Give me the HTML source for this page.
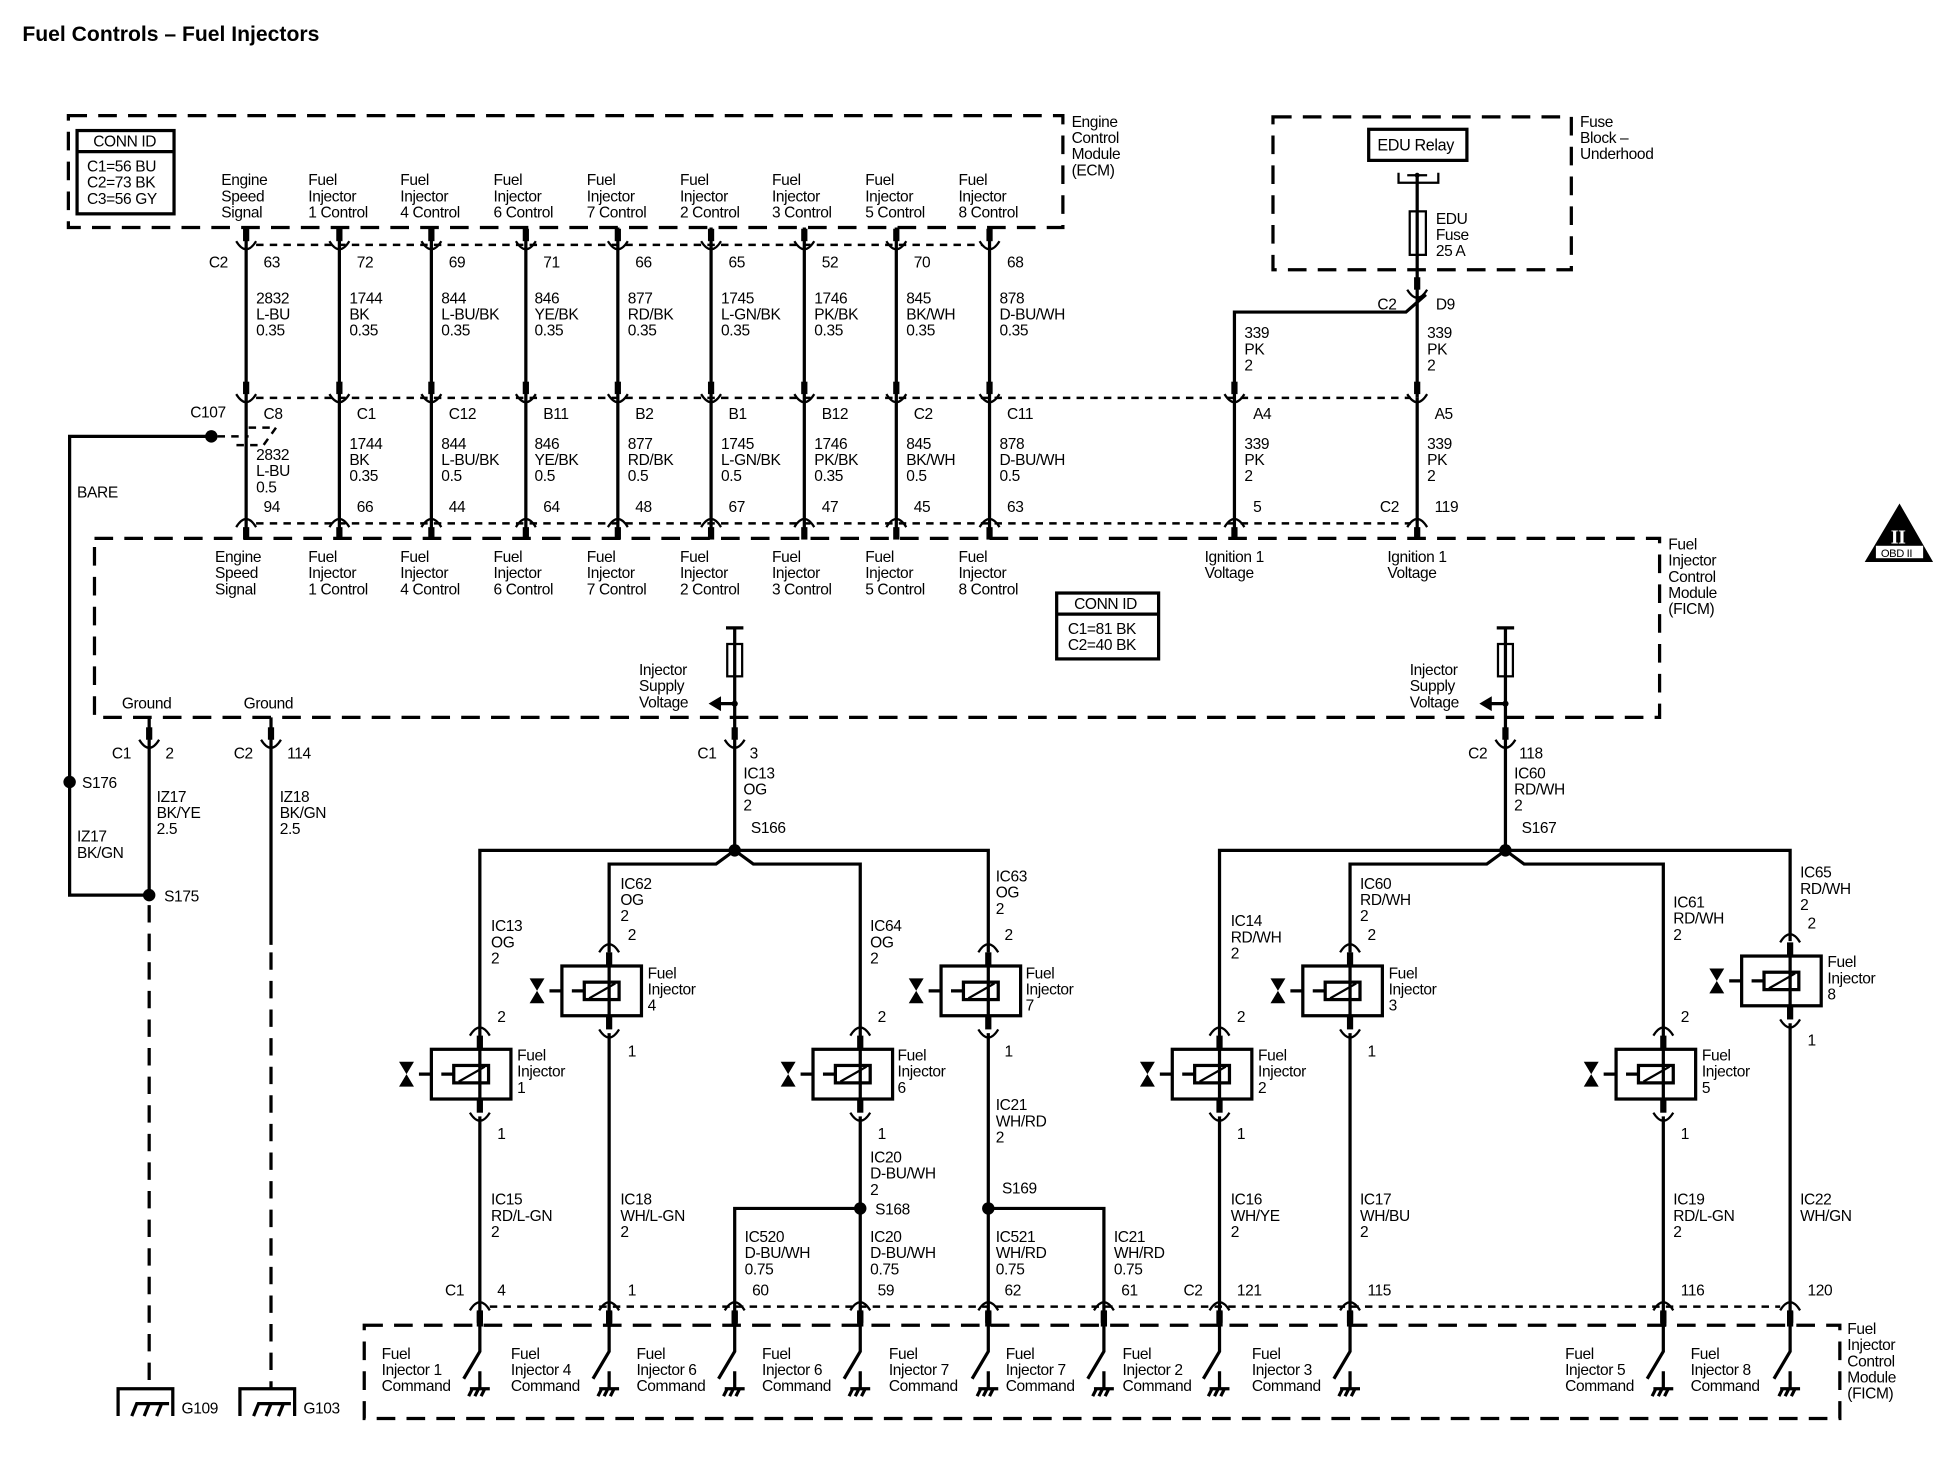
<!DOCTYPE html>
<html><head><meta charset="utf-8"><style>
html,body{margin:0;padding:0;background:#fff}
svg{display:block}
text{font-family:"Liberation Sans",sans-serif;font-size:12.5px;fill:#000;letter-spacing:-0.3px}
.w{stroke:#000;stroke-width:2.6;fill:none}
.t{stroke:#000;stroke-width:1.8;fill:none}
.dc{stroke:#000;stroke-width:2;fill:none;stroke-dasharray:6,5}
.db{stroke:#000;stroke-width:2.6;fill:none;stroke-dasharray:15,9}
</style></head><body>
<svg width="1948" height="1472" viewBox="0 0 1567 1184" preserveAspectRatio="none" xmlns="http://www.w3.org/2000/svg">
<defs>
<g id="f"><rect x="-2.5" y="-13" width="5" height="10"/><path d="M-8,-3 Q0,10 8,-3" class="t"/></g>
<g id="d"><rect x="-2.5" y="3" width="5" height="10"/><path d="M-8,3 Q0,-10 8,3" class="t"/></g>
<g id="inj"><rect x="-32" y="0" width="64" height="40" class="w"/><rect x="-14" y="13" width="28" height="14" class="w"/><path d="M-10,26 L11,14" class="t"/><path d="M-32,20 h-10 M-14,20 h-10" class="w"/><path d="M-58,10 h12 l-12,20 h12 z" fill="#000"/></g>
<g id="sw"><rect x="-2.5" y="4" width="5" height="12"/><path d="M0,16 V36 L-13,58" class="w"/><path d="M0,52 V66 M-8,66 H8 M-6,66 l-3,6 M-1,66 l-3,6 M4,66 l-3,6" class="w"/></g>
<g id="gnd"><path d="M-25,22 V0 H19 V22" class="w"/><path d="M-14,22 l4,-10 H16 M-4,22 l4,-10 M6,22 l4,-10" class="w"/></g>
</defs>

<text x="18" y="33" style="font-size:17px;font-weight:bold;letter-spacing:0">Fuel Controls – Fuel Injectors</text>

<!-- ECM -->
<path d="M55,93 H855 V183 H55 Z" class="db"/>
<text x="862" y="102">Engine</text><text x="862" y="115">Control</text><text x="862" y="128">Module</text><text x="862" y="141">(ECM)</text>
<rect x="62" y="105" width="78" height="67" class="w"/><path d="M62,122 H140" class="w"/>
<text x="75" y="118">CONN ID</text><text x="70" y="138">C1=56 BU</text><text x="70" y="151">C2=73 BK</text><text x="70" y="164">C3=56 GY</text>

<g>
<text x="178" y="149">Engine</text><text x="178" y="162">Speed</text><text x="178" y="175">Signal</text>
<text x="248" y="149">Fuel</text><text x="248" y="162">Injector</text><text x="248" y="175">1 Control</text>
<text x="322" y="149">Fuel</text><text x="322" y="162">Injector</text><text x="322" y="175">4 Control</text>
<text x="397" y="149">Fuel</text><text x="397" y="162">Injector</text><text x="397" y="175">6 Control</text>
<text x="472" y="149">Fuel</text><text x="472" y="162">Injector</text><text x="472" y="175">7 Control</text>
<text x="547" y="149">Fuel</text><text x="547" y="162">Injector</text><text x="547" y="175">2 Control</text>
<text x="621" y="149">Fuel</text><text x="621" y="162">Injector</text><text x="621" y="175">3 Control</text>
<text x="696" y="149">Fuel</text><text x="696" y="162">Injector</text><text x="696" y="175">5 Control</text>
<text x="771" y="149">Fuel</text><text x="771" y="162">Injector</text><text x="771" y="175">8 Control</text>
</g>

<path d="M206,197 H790" class="dc"/>
<path d="M206,320 H1135" class="dc"/>
<path d="M206,421 H1135" class="dc"/>

<path d="M198,183 V433 M273,183 V433 M347,183 V433 M423,183 V433 M497,183 V433 M572,183 V433 M647,183 V433 M721,183 V433 M796,183 V433" class="w"/>
<g>
<use href="#f" x="198" y="197"/><use href="#f" x="273" y="197"/><use href="#f" x="347" y="197"/><use href="#f" x="423" y="197"/><use href="#f" x="497" y="197"/><use href="#f" x="572" y="197"/><use href="#f" x="647" y="197"/><use href="#f" x="721" y="197"/><use href="#f" x="796" y="197"/>
<use href="#f" x="198" y="320"/><use href="#f" x="273" y="320"/><use href="#f" x="347" y="320"/><use href="#f" x="423" y="320"/><use href="#f" x="497" y="320"/><use href="#f" x="572" y="320"/><use href="#f" x="647" y="320"/><use href="#f" x="721" y="320"/><use href="#f" x="796" y="320"/><use href="#f" x="993" y="320"/><use href="#f" x="1140" y="320"/>
<use href="#d" x="198" y="421"/><use href="#d" x="273" y="421"/><use href="#d" x="347" y="421"/><use href="#d" x="423" y="421"/><use href="#d" x="497" y="421"/><use href="#d" x="572" y="421"/><use href="#d" x="647" y="421"/><use href="#d" x="721" y="421"/><use href="#d" x="796" y="421"/><use href="#d" x="993" y="421"/><use href="#d" x="1140" y="421"/>
</g>
<text x="168" y="215">C2</text>
<text x="212" y="215">63</text><text x="287" y="215">72</text><text x="361" y="215">69</text><text x="437" y="215">71</text><text x="511" y="215">66</text><text x="586" y="215">65</text><text x="661" y="215">52</text><text x="735" y="215">70</text><text x="810" y="215">68</text>
<g>
<text x="206" y="244">2832</text><text x="206" y="257">L-BU</text><text x="206" y="270">0.35</text>
<text x="281" y="244">1744</text><text x="281" y="257">BK</text><text x="281" y="270">0.35</text>
<text x="355" y="244">844</text><text x="355" y="257">L-BU/BK</text><text x="355" y="270">0.35</text>
<text x="430" y="244">846</text><text x="430" y="257">YE/BK</text><text x="430" y="270">0.35</text>
<text x="505" y="244">877</text><text x="505" y="257">RD/BK</text><text x="505" y="270">0.35</text>
<text x="580" y="244">1745</text><text x="580" y="257">L-GN/BK</text><text x="580" y="270">0.35</text>
<text x="655" y="244">1746</text><text x="655" y="257">PK/BK</text><text x="655" y="270">0.35</text>
<text x="729" y="244">845</text><text x="729" y="257">BK/WH</text><text x="729" y="270">0.35</text>
<text x="804" y="244">878</text><text x="804" y="257">D-BU/WH</text><text x="804" y="270">0.35</text>
</g>
<text x="153" y="336">C107</text>
<text x="212" y="337">C8</text><text x="287" y="337">C1</text><text x="361" y="337">C12</text><text x="437" y="337">B11</text><text x="511" y="337">B2</text><text x="586" y="337">B1</text><text x="661" y="337">B12</text><text x="735" y="337">C2</text><text x="810" y="337">C11</text>
<text x="1008" y="337">A4</text><text x="1154" y="337">A5</text>
<g>
<text x="206" y="370">2832</text><text x="206" y="383">L-BU</text><text x="206" y="396">0.5</text>
<text x="281" y="361">1744</text><text x="281" y="374">BK</text><text x="281" y="387">0.35</text>
<text x="355" y="361">844</text><text x="355" y="374">L-BU/BK</text><text x="355" y="387">0.5</text>
<text x="430" y="361">846</text><text x="430" y="374">YE/BK</text><text x="430" y="387">0.5</text>
<text x="505" y="361">877</text><text x="505" y="374">RD/BK</text><text x="505" y="387">0.5</text>
<text x="580" y="361">1745</text><text x="580" y="374">L-GN/BK</text><text x="580" y="387">0.5</text>
<text x="655" y="361">1746</text><text x="655" y="374">PK/BK</text><text x="655" y="387">0.35</text>
<text x="729" y="361">845</text><text x="729" y="374">BK/WH</text><text x="729" y="387">0.5</text>
<text x="804" y="361">878</text><text x="804" y="374">D-BU/WH</text><text x="804" y="387">0.5</text>
<text x="1001" y="361">339</text><text x="1001" y="374">PK</text><text x="1001" y="387">2</text>
<text x="1148" y="361">339</text><text x="1148" y="374">PK</text><text x="1148" y="387">2</text>
</g>
<text x="212" y="412">94</text><text x="287" y="412">66</text><text x="361" y="412">44</text><text x="437" y="412">64</text><text x="511" y="412">48</text><text x="586" y="412">67</text><text x="661" y="412">47</text><text x="735" y="412">45</text><text x="810" y="412">63</text>
<text x="1008" y="412">5</text><text x="1110" y="412">C2</text><text x="1154" y="412">119</text>

<circle cx="170" cy="351" r="5" fill="#000"/>
<path d="M175,351 H200 M200,344 l22,0 l-10,14 l-26,0" class="dc"/>
<path d="M170,351 H56 V720 H120" class="w"/>
<circle cx="56" cy="629" r="5" fill="#000"/>
<text x="62" y="400">BARE</text>
<text x="66" y="634">S176</text>
<text x="62" y="677">IZ17</text><text x="62" y="690">BK/GN</text>

<path d="M1024,94 H1264 V217 H1024 Z" class="db"/>
<text x="1271" y="102">Fuse</text><text x="1271" y="115">Block –</text><text x="1271" y="128">Underhood</text>
<rect x="1101" y="104" width="79" height="25" class="w"/>
<text x="1108" y="121" style="font-size:13px">EDU Relay</text>
<path d="M1125,139 V147 H1157 V139 M1132,141 H1148" class="t"/>
<circle cx="1140" cy="141" r="2" fill="#000"/>
<rect x="1134" y="170" width="13" height="35" class="t"/>
<path d="M1140,141 V320" class="w"/>
<text x="1155" y="180">EDU</text><text x="1155" y="193">Fuse</text><text x="1155" y="206">25 A</text>
<use href="#f" x="1140" y="236"/>
<path d="M1147,237 L1131,251 H993 V433" class="w"/>
<path d="M1140,320 V433" class="w"/>
<text x="1108" y="249">C2</text><text x="1155" y="249">D9</text>
<text x="1001" y="272">339</text><text x="1001" y="285">PK</text><text x="1001" y="298">2</text>
<text x="1148" y="272">339</text><text x="1148" y="285">PK</text><text x="1148" y="298">2</text>

<path d="M1528,405 L1555,452 H1500 Z" fill="#000"/>
<text x="1521" y="437" style="fill:#fff;font-family:'Liberation Serif',serif;font-size:16px;font-weight:bold">II</text>
<rect x="1509" y="439" width="38" height="10" fill="#fff"/>
<text x="1513" y="448" style="font-size:9px">OBD II</text>

<path d="M76,433 H1335 V577 H76 Z" class="db"/>
<text x="1342" y="442">Fuel</text><text x="1342" y="455">Injector</text><text x="1342" y="468">Control</text><text x="1342" y="481">Module</text><text x="1342" y="494">(FICM)</text>
<g>
<text x="173" y="452">Engine</text><text x="173" y="465">Speed</text><text x="173" y="478">Signal</text>
<text x="248" y="452">Fuel</text><text x="248" y="465">Injector</text><text x="248" y="478">1 Control</text>
<text x="322" y="452">Fuel</text><text x="322" y="465">Injector</text><text x="322" y="478">4 Control</text>
<text x="397" y="452">Fuel</text><text x="397" y="465">Injector</text><text x="397" y="478">6 Control</text>
<text x="472" y="452">Fuel</text><text x="472" y="465">Injector</text><text x="472" y="478">7 Control</text>
<text x="547" y="452">Fuel</text><text x="547" y="465">Injector</text><text x="547" y="478">2 Control</text>
<text x="621" y="452">Fuel</text><text x="621" y="465">Injector</text><text x="621" y="478">3 Control</text>
<text x="696" y="452">Fuel</text><text x="696" y="465">Injector</text><text x="696" y="478">5 Control</text>
<text x="771" y="452">Fuel</text><text x="771" y="465">Injector</text><text x="771" y="478">8 Control</text>
<text x="969" y="452">Ignition 1</text><text x="969" y="465">Voltage</text>
<text x="1116" y="452">Ignition 1</text><text x="1116" y="465">Voltage</text>
</g>
<rect x="850" y="477" width="82" height="53" class="w"/><path d="M850,494 H932" class="w"/>
<text x="864" y="490">CONN ID</text><text x="859" y="510">C1=81 BK</text><text x="859" y="523">C2=40 BK</text>

<path d="M584,505 H598 M591,505 V598 M1204,505 H1218 M1211,505 V598" class="w"/>
<rect x="585" y="518" width="12" height="26" fill="#fff" class="t"/>
<rect x="1205" y="518" width="12" height="26" fill="#fff" class="t"/>
<path d="M591,566 H578 M1211,566 H1198" class="w"/>
<path d="M570,566 l10,-6 v12 z M1190,566 l10,-6 v12 z" fill="#000"/>
<circle cx="591" cy="566" r="2.5" fill="#000"/><circle cx="1211" cy="566" r="2.5" fill="#000"/>
<text x="514" y="543">Injector</text><text x="514" y="556">Supply</text><text x="514" y="569">Voltage</text>
<text x="1134" y="543">Injector</text><text x="1134" y="556">Supply</text><text x="1134" y="569">Voltage</text>
<use href="#f" x="591" y="598"/><use href="#f" x="1211" y="598"/>
<text x="561" y="610">C1</text><text x="603" y="610">3</text>
<text x="1181" y="610">C2</text><text x="1222" y="610">118</text>
<text x="598" y="626">IC13</text><text x="598" y="639">OG</text><text x="598" y="652">2</text>
<text x="604" y="670">S166</text>
<text x="1218" y="626">IC60</text><text x="1218" y="639">RD/WH</text><text x="1218" y="652">2</text>
<text x="1224" y="670">S167</text>

<text x="98" y="570">Ground</text><text x="196" y="570">Ground</text>
<use href="#f" x="120" y="598"/><use href="#f" x="218" y="598"/>
<text x="90" y="610">C1</text><text x="133" y="610">2</text><text x="188" y="610">C2</text><text x="231" y="610">114</text>
<path d="M120,577 V720 M218,577 V760" class="w"/>
<path d="M120,728 V1118 M218,766 V1118" class="w" style="stroke-dasharray:14,9"/>
<circle cx="120" cy="720" r="5" fill="#000"/>
<text x="132" y="725">S175</text>
<text x="126" y="645">IZ17</text><text x="126" y="658">BK/YE</text><text x="126" y="671">2.5</text>
<text x="225" y="645">IZ18</text><text x="225" y="658">BK/GN</text><text x="225" y="671">2.5</text>
<use href="#gnd" x="120" y="1117"/><use href="#gnd" x="218" y="1117"/>
<text x="146" y="1137">G109</text><text x="244" y="1137">G103</text>

<path d="M591,598 V684 M386,840 V684 H795 V766 M591,684 L576,695 H490 V766 M591,684 L606,695 H692 V840" class="w"/>
<circle cx="591" cy="684" r="5" fill="#000"/>
<path d="M1211,598 V684 M981,840 V684 H1440 V757 M1211,684 L1196,695 H1086 V766 M1211,684 L1226,695 H1338 V840" class="w"/>
<circle cx="1211" cy="684" r="5" fill="#000"/>

<use href="#inj" x="379" y="844"/>
<use href="#inj" x="484" y="777"/>
<use href="#inj" x="686" y="844"/>
<use href="#inj" x="789" y="777"/>
<use href="#inj" x="975" y="844"/>
<use href="#inj" x="1080" y="777"/>
<use href="#inj" x="1332" y="844"/>
<use href="#inj" x="1433" y="769"/>
<g>
<use href="#d" x="386" y="830"/><use href="#f" x="386" y="898"/>
<use href="#d" x="490" y="763"/><use href="#f" x="490" y="831"/>
<use href="#d" x="692" y="830"/><use href="#f" x="692" y="898"/>
<use href="#d" x="795" y="763"/><use href="#f" x="795" y="831"/>
<use href="#d" x="981" y="830"/><use href="#f" x="981" y="898"/>
<use href="#d" x="1086" y="763"/><use href="#f" x="1086" y="831"/>
<use href="#d" x="1338" y="830"/><use href="#f" x="1338" y="898"/>
<use href="#d" x="1440" y="755"/><use href="#f" x="1440" y="823"/>
</g>
<path d="M386,840 V888 M490,773 V821 M692,840 V888 M795,773 V821 M981,840 V888 M1086,773 V821 M1338,840 V888 M1440,765 V813" class="w"/>
<path d="M386,898 V1062 M490,831 V1062 M692,898 V1062 M795,831 V1062 M981,898 V1062 M1086,831 V1062 M1338,898 V1062 M1440,823 V1062" class="w"/>
<path d="M591,1062 V972 H692 M795,972 H888 V1062" class="w"/>
<circle cx="692" cy="972" r="5" fill="#000"/><circle cx="795" cy="972" r="5" fill="#000"/>
<text x="704" y="977">S168</text><text x="806" y="960">S169</text>

<g>
<text x="416" y="853">Fuel</text><text x="416" y="866">Injector</text><text x="416" y="879">1</text>
<text x="521" y="787">Fuel</text><text x="521" y="800">Injector</text><text x="521" y="813">4</text>
<text x="722" y="853">Fuel</text><text x="722" y="866">Injector</text><text x="722" y="879">6</text>
<text x="825" y="787">Fuel</text><text x="825" y="800">Injector</text><text x="825" y="813">7</text>
<text x="1012" y="853">Fuel</text><text x="1012" y="866">Injector</text><text x="1012" y="879">2</text>
<text x="1117" y="787">Fuel</text><text x="1117" y="800">Injector</text><text x="1117" y="813">3</text>
<text x="1369" y="853">Fuel</text><text x="1369" y="866">Injector</text><text x="1369" y="879">5</text>
<text x="1470" y="778">Fuel</text><text x="1470" y="791">Injector</text><text x="1470" y="804">8</text>
</g>
<g>
<text x="400" y="822">2</text><text x="400" y="916">1</text>
<text x="505" y="756">2</text><text x="505" y="850">1</text>
<text x="706" y="822">2</text><text x="706" y="916">1</text>
<text x="808" y="756">2</text><text x="808" y="850">1</text>
<text x="995" y="822">2</text><text x="995" y="916">1</text>
<text x="1100" y="756">2</text><text x="1100" y="850">1</text>
<text x="1352" y="822">2</text><text x="1352" y="916">1</text>
<text x="1454" y="747">2</text><text x="1454" y="841">1</text>
</g>
<g>
<text x="395" y="749">IC13</text><text x="395" y="762">OG</text><text x="395" y="775">2</text>
<text x="499" y="715">IC62</text><text x="499" y="728">OG</text><text x="499" y="741">2</text>
<text x="700" y="749">IC64</text><text x="700" y="762">OG</text><text x="700" y="775">2</text>
<text x="801" y="709">IC63</text><text x="801" y="722">OG</text><text x="801" y="735">2</text>
<text x="990" y="745">IC14</text><text x="990" y="758">RD/WH</text><text x="990" y="771">2</text>
<text x="1094" y="715">IC60</text><text x="1094" y="728">RD/WH</text><text x="1094" y="741">2</text>
<text x="1346" y="730">IC61</text><text x="1346" y="743">RD/WH</text><text x="1346" y="756">2</text>
<text x="1448" y="706">IC65</text><text x="1448" y="719">RD/WH</text><text x="1448" y="732">2</text>
</g>
<g>
<text x="395" y="969">IC15</text><text x="395" y="982">RD/L-GN</text><text x="395" y="995">2</text>
<text x="499" y="969">IC18</text><text x="499" y="982">WH/L-GN</text><text x="499" y="995">2</text>
<text x="700" y="935">IC20</text><text x="700" y="948">D-BU/WH</text><text x="700" y="961">2</text>
<text x="801" y="893">IC21</text><text x="801" y="906">WH/RD</text><text x="801" y="919">2</text>
<text x="599" y="999">IC520</text><text x="599" y="1012">D-BU/WH</text><text x="599" y="1025">0.75</text>
<text x="700" y="999">IC20</text><text x="700" y="1012">D-BU/WH</text><text x="700" y="1025">0.75</text>
<text x="801" y="999">IC521</text><text x="801" y="1012">WH/RD</text><text x="801" y="1025">0.75</text>
<text x="896" y="999">IC21</text><text x="896" y="1012">WH/RD</text><text x="896" y="1025">0.75</text>
<text x="990" y="969">IC16</text><text x="990" y="982">WH/YE</text><text x="990" y="995">2</text>
<text x="1094" y="969">IC17</text><text x="1094" y="982">WH/BU</text><text x="1094" y="995">2</text>
<text x="1346" y="969">IC19</text><text x="1346" y="982">RD/L-GN</text><text x="1346" y="995">2</text>
<text x="1448" y="969">IC22</text><text x="1448" y="982">WH/GN</text>
</g>

<path d="M394,1051 H1432" class="dc"/>
<g>
<use href="#d" x="386" y="1051"/><use href="#d" x="490" y="1051"/><use href="#d" x="591" y="1051"/><use href="#d" x="692" y="1051"/><use href="#d" x="795" y="1051"/><use href="#d" x="888" y="1051"/><use href="#d" x="981" y="1051"/><use href="#d" x="1086" y="1051"/><use href="#d" x="1338" y="1051"/><use href="#d" x="1440" y="1051"/>
</g>
<text x="358" y="1042">C1</text><text x="400" y="1042">4</text><text x="505" y="1042">1</text><text x="605" y="1042">60</text><text x="706" y="1042">59</text><text x="808" y="1042">62</text><text x="902" y="1042">61</text>
<text x="952" y="1042">C2</text><text x="995" y="1042">121</text><text x="1100" y="1042">115</text><text x="1352" y="1042">116</text><text x="1454" y="1042">120</text>

<path d="M293,1066 H1480 V1141 H293 Z" class="db"/>
<text x="1486" y="1073">Fuel</text><text x="1486" y="1086">Injector</text><text x="1486" y="1099">Control</text><text x="1486" y="1112">Module</text><text x="1486" y="1125">(FICM)</text>
<g>
<use href="#sw" x="386" y="1051"/><use href="#sw" x="490" y="1051"/><use href="#sw" x="591" y="1051"/><use href="#sw" x="692" y="1051"/><use href="#sw" x="795" y="1051"/><use href="#sw" x="888" y="1051"/><use href="#sw" x="981" y="1051"/><use href="#sw" x="1086" y="1051"/><use href="#sw" x="1338" y="1051"/><use href="#sw" x="1440" y="1051"/>
</g>
<g>
<text x="307" y="1093">Fuel</text><text x="307" y="1106">Injector 1</text><text x="307" y="1119">Command</text>
<text x="411" y="1093">Fuel</text><text x="411" y="1106">Injector 4</text><text x="411" y="1119">Command</text>
<text x="512" y="1093">Fuel</text><text x="512" y="1106">Injector 6</text><text x="512" y="1119">Command</text>
<text x="613" y="1093">Fuel</text><text x="613" y="1106">Injector 6</text><text x="613" y="1119">Command</text>
<text x="715" y="1093">Fuel</text><text x="715" y="1106">Injector 7</text><text x="715" y="1119">Command</text>
<text x="809" y="1093">Fuel</text><text x="809" y="1106">Injector 7</text><text x="809" y="1119">Command</text>
<text x="903" y="1093">Fuel</text><text x="903" y="1106">Injector 2</text><text x="903" y="1119">Command</text>
<text x="1007" y="1093">Fuel</text><text x="1007" y="1106">Injector 3</text><text x="1007" y="1119">Command</text>
<text x="1259" y="1093">Fuel</text><text x="1259" y="1106">Injector 5</text><text x="1259" y="1119">Command</text>
<text x="1360" y="1093">Fuel</text><text x="1360" y="1106">Injector 8</text><text x="1360" y="1119">Command</text>
</g>
</svg>
</body></html>
